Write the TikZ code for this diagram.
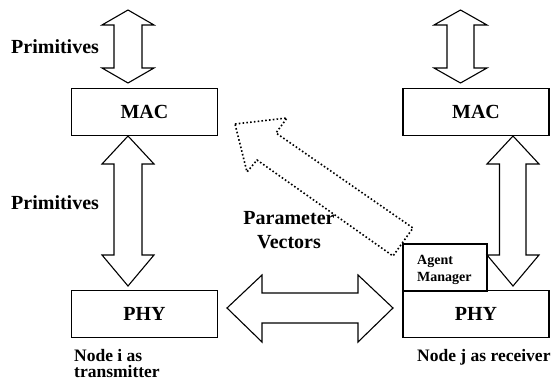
\documentclass[tikz,border=0pt]{standalone}
\usepackage{fontspec}
\setmainfont{Liberation Serif}
\begin{document}
\begin{tikzpicture}[x=1pt,y=-1pt,
  box/.style={draw,line width=1.2pt,rectangle,inner sep=0pt,minimum width=146pt,minimum height=47pt,font=\fontsize{20}{24}\selectfont\bfseries},
  fat/.style={draw,line width=1.1pt,line join=miter,fill=white},
  dotarrow/.style={draw,line width=1.6pt,dash pattern=on 1.6pt off 2.2pt,line join=miter},
  lbl/.style={inner sep=0pt,font=\fontsize{20}{24}\selectfont\bfseries},
  small/.style={inner sep=0pt,align=left,font=\fontsize{17.5}{16.5}\selectfont\bfseries}]
\useasboundingbox (0,0) rectangle (554,385);
% boxes
\node[box] (macL) at (144.5,112) {MAC};
\node[box] (macR) at (476,112) {MAC};
\node[box] (phyL) at (144.5,314) {PHY};
\node[box] (phyR) at (476,314) {PHY};
\node[box,minimum width=84pt,minimum height=47pt] (agent) at (445,267.5) {};
\node[inner sep=0pt,anchor=west,align=left,font=\fontsize{14}{17}\selectfont\bfseries] (agenttxt) at (417,269.5) {Agent\\Manager};
% fat double arrows (vertical)
\draw[fat] (128,10) -- (154,25) -- (142,25) -- (142,68) -- (154,68) -- (128,83) -- (102,68) -- (114,68) -- (114,25) -- (102,25) -- cycle;
\draw[fat] (128,136) -- (154,164) -- (142,164) -- (142,255) -- (154,255) -- (128,286) -- (102,255) -- (114,255) -- (114,164) -- (102,164) -- cycle;
\draw[fat] (460.5,10) -- (487,25) -- (474,25) -- (474,68) -- (487,68) -- (460.5,83) -- (434,68) -- (447,68) -- (447,25) -- (434,25) -- cycle;
\draw[fat] (513,136) -- (539,164) -- (526,164) -- (526,255) -- (539,255) -- (513,286) -- (487,255) -- (499.5,255) -- (499.5,164) -- (487,164) -- cycle;
% horizontal double arrow
\draw[fat] (227,308) -- (262,275) -- (262,293) -- (358,293) -- (358,275) -- (393,308) -- (358,342) -- (358,323) -- (262,323) -- (262,342) -- cycle;
% dotted arrow (parameter vectors)
\draw[dotarrow] (235,124) -- (287,118) -- (276,133) -- (413,228) -- (393,256) -- (257,160) -- (247,172) -- cycle;
% labels
\node[lbl,anchor=west] (prim1) at (11,47) {Primitives};
\node[lbl,anchor=west] (prim2) at (11,203) {Primitives};
\node[lbl,align=center] (param) at (289,230) {Parameter\\Vectors};
\node[small,anchor=north west] (nodei) at (74,349) {Node i as\\transmitter};
\node[small,anchor=north west] (nodej) at (417,349) {Node j as receiver};
\end{tikzpicture}
\end{document}
